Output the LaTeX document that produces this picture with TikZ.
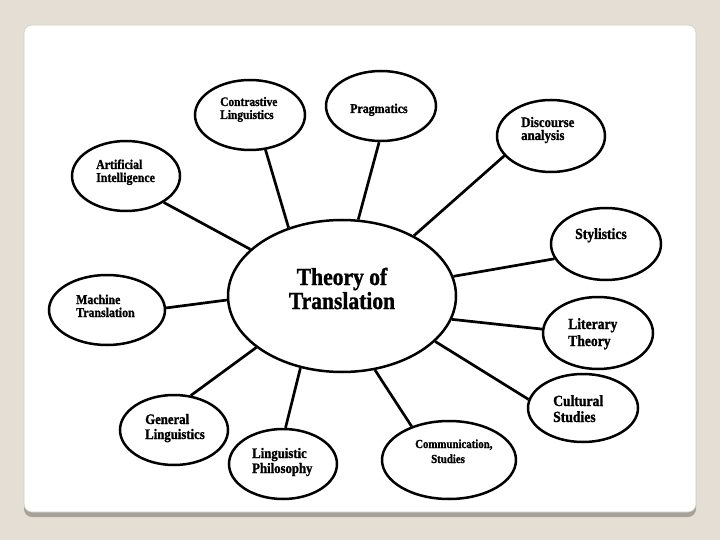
\documentclass[tikz,border=0pt]{standalone}
\usepackage{fontspec}
\setmainfont{Liberation Serif}
\newfontfamily\scanfont[FakeStretch=0.88,FakeBold=1.2]{Liberation Serif Bold}
\usetikzlibrary{shapes.geometric}
\definecolor{bgc}{HTML}{E4DED4}
\definecolor{shadowc}{HTML}{A6A29A}
\definecolor{framec}{HTML}{D2CDC4}
\tikzset{
  bub/.style={draw=black, line width=2.5pt, ellipse, inner sep=0pt, fill=white},
  lab/.style={anchor=base west, inner sep=0pt},
  con/.style={draw=black, line width=2.7pt}
}
\newcommand{\fsz}[1]{\scanfont\fontsize{#1}{#1}\selectfont}
\begin{document}
\begin{tikzpicture}[x=1pt,y=-1pt]
\useasboundingbox (0,0) rectangle (720,540);
\fill[bgc] (0,0) rectangle (720,540);
\fill[shadowc, rounded corners=8pt] (24,30) rectangle (696,517);
\filldraw[fill=white, draw=framec, line width=0.6pt, rounded corners=8pt] (24,25) rectangle (696,512);

% nodes
\node[bub, minimum width=228pt, minimum height=152pt] (T) at (342,296) {};
\node[bub, minimum width=110pt, minimum height=70pt] (CL) at (250,115) {};
\node[bub, minimum width=110pt, minimum height=70pt] (PR) at (381,106) {};
\node[bub, minimum width=108pt, minimum height=72pt] (DA) at (551,136) {};
\node[bub, minimum width=108pt, minimum height=70pt] (AI) at (126,176) {};
\node[bub, minimum width=110pt, minimum height=72pt] (ST) at (606,244) {};
\node[bub, minimum width=116pt, minimum height=70pt] (MT) at (107,310) {};
\node[bub, minimum width=110pt, minimum height=72pt] (LT) at (598,333) {};
\node[bub, minimum width=110pt, minimum height=68pt] (CS) at (583,408) {};
\node[bub, minimum width=108pt, minimum height=70pt] (GL) at (174,430) {};
\node[bub, minimum width=108pt, minimum height=70pt] (LP) at (283,464) {};
\node[bub, minimum width=134pt, minimum height=78pt] (CO) at (449,460) {};

% connectors
\draw[con] (T.153.9) -- (AI.-35.4);
\draw[con] (T.128) -- (CL.-66);
\draw[con] (T.78.3) -- (PR.-93);
\draw[con] (T.40.3) -- (DA.203.6);
\draw[con] (T.10.6) -- (ST.196.8);
\draw[con] (T.182) -- (MT.2);
\draw[con] (T.-12.9) -- (LT.176.8);
\draw[con] (T.-26.8) -- (CS.171.7);
\draw[con] (T.211) -- (GL.64);
\draw[con] (T.240.9) -- (LP.86.7);
\draw[con] (T.-66.6) -- (CO.138.8);

% labels
\node[lab, anchor=base, font=\fsz{24.5}] (T1) at (342,285) {Theory of};
\node[lab, anchor=base, font=\fsz{24.5}] (T2) at (342,309) {Translation};

\node[lab, font=\fsz{13}] (CL1) at (220,106) {Contrastive};
\node[lab, font=\fsz{13}] (CL2) at (220,119) {Linguistics};

\node[lab, font=\fsz{13.5}] (PR1) at (350,113) {Pragmatics};

\node[lab, font=\fsz{14.5}] (DA1) at (521,127) {Discourse};
\node[lab, font=\fsz{14.5}] (DA2) at (521,140) {analysis};

\node[lab, font=\fsz{13.5}] (AI1) at (96,169) {Artificial};
\node[lab, font=\fsz{13.5}] (AI2) at (96,182) {Intelligence};

\node[lab, font=\fsz{15.5}] (ST1) at (575,239) {Stylistics};

\node[lab, font=\fsz{13.5}] (MT1) at (76,304) {Machine};
\node[lab, font=\fsz{13.5}] (MT2) at (76,317) {Translation};

\node[lab, font=\fsz{15.5}] (LT1) at (568,329) {Literary};
\node[lab, font=\fsz{15.5}] (LT2) at (568,346) {Theory};

\node[lab, font=\fsz{15.5}] (CS1) at (553,406) {Cultural};
\node[lab, font=\fsz{15.5}] (CS2) at (553,422) {Studies};

\node[lab, font=\fsz{14.5}] (GL1) at (145,424) {General};
\node[lab, font=\fsz{14.5}] (GL2) at (145,439) {Linguistics};

\node[lab, font=\fsz{14.5}] (LP1) at (252,458) {Linguistic};
\node[lab, font=\fsz{14.5}] (LP2) at (252,473) {Philosophy};

\node[lab, font=\fsz{12.3}] (CO1) at (415,448) {Communication,};
\node[lab, font=\fsz{12.3}] (CO2) at (431,463) {Studies};
\end{tikzpicture}
\end{document}
